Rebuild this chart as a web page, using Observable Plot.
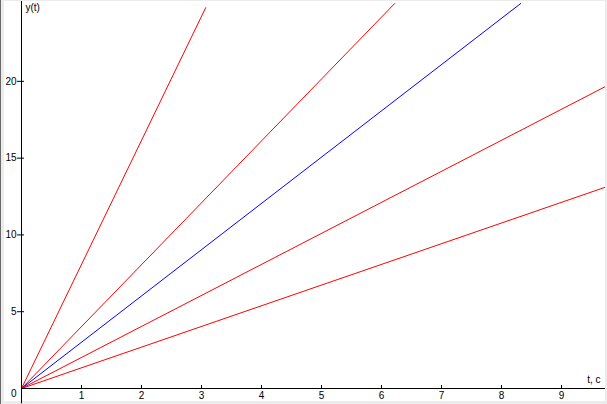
<!DOCTYPE html>
<html>
<head>
<meta charset="utf-8">
<script src="https://cdn.jsdelivr.net/npm/d3@7"></script>
<script src="https://cdn.jsdelivr.net/npm/@observablehq/plot@0.6"></script>
<style>
  html, body { margin: 0; padding: 0; background: #f0f0f0; }
  #wrap {
    position: relative; width: 607px; height: 404px; box-sizing: border-box;
    background: #ececec; border-left: 1px solid #6a6a6a; overflow: hidden;
  }
  #wrap svg { position: absolute; left: 3px; top: 1px; }
</style>
</head>
<body>
<div id="wrap"></div>
<script>
// Series: straight lines y(t) from the origin, end points
const seriesNames  = ["a", "b", "c", "d", "e"];
const seriesColors = ["#ff0000", "#ff0000", "#0000ff", "#ff0000", "#ff0000"];
const tStart = [0, 0, 0, 0, 0];
const yStart = [0, 0, 0, 0, 0];
const tEnd   = [3.07, 6.22, 8.32, 9.8, 9.8];
const yEnd   = [24.8, 25.07, 25.07, 19.8, 13.2];

// Ticks and labels
const xTicks = [1, 2, 3, 4, 5, 6, 7, 8, 9];
const yTicks = [5, 10, 15, 20];
const originLabel = ["0"];
const yTitle = ["y(t)"];
const xTitle = ["t, c"];

const rows = [];
seriesNames.forEach((s, i) => {
  rows.push({series: s, color: seriesColors[i], t: tStart[i], y: yStart[i]});
  rows.push({series: s, color: seriesColors[i], t: tEnd[i], y: yEnd[i]});
});

const chart = Plot.plot({
  width: 601,
  height: 400,
  marginLeft: 17,
  marginRight: 0,
  marginTop: 0,
  marginBottom: 13,
  x: {domain: [0, 9.733]},
  y: {domain: [0, 25.2]},
  color: {type: "identity"},
  style: {background: "white", color: "black", fontFamily: "'Liberation Sans', Arial, sans-serif", fontSize: "10px", overflow: "visible"},
  marks: [
    Plot.line(rows, {x: "t", y: "y", z: "series", stroke: "color", strokeWidth: 1, clip: true}),
    Plot.ruleY([0], {stroke: "black"}),
    Plot.ruleX([0], {y1: -1, y2: 25.2, stroke: "black"}),
    Plot.axisX(xTicks, {tickSize: 4, dy: -3, tickFormat: () => "", label: null, stroke: "black"}),
    Plot.axisX(xTicks, {tickSize: 0, tickPadding: 3, fontSize: 10, label: null, fill: "black"}),
    Plot.axisY(yTicks, {tickSize: 7, dx: 3, tickFormat: () => "", label: null, stroke: "black"}),
    Plot.axisY(yTicks, {tickSize: 0, tickPadding: 5, fontSize: 10, label: null, fill: "black"}),
    Plot.text(originLabel, {frameAnchor: "bottom-left", text: d => d, dx: -5, dy: 5, textAnchor: "end", lineAnchor: "middle", fontSize: 10, fill: "black"}),
    Plot.text(yTitle, {frameAnchor: "top-left", text: d => d, dx: 4, dy: 2, textAnchor: "start", lineAnchor: "top", fontSize: 10, fill: "black"}),
    Plot.text(xTitle, {frameAnchor: "bottom-right", text: d => d, dx: -5, dy: -6, textAnchor: "end", lineAnchor: "bottom", fontSize: 10, fill: "black"})
  ]
});
document.getElementById("wrap").appendChild(chart);
</script>
</body>
</html>
